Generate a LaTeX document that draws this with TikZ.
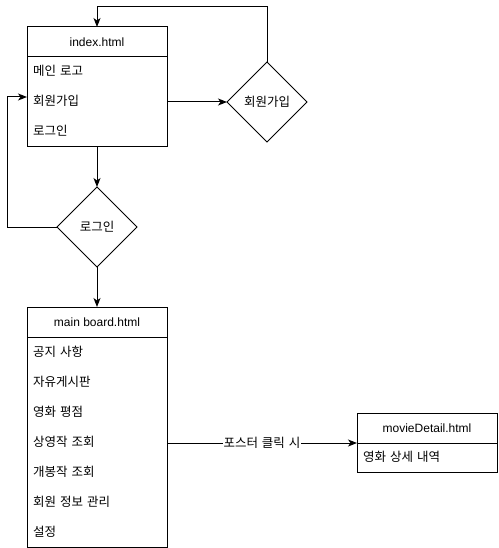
\documentclass[tikz,border=0pt]{standalone}
\usepackage{fontspec}
\setmainfont{Liberation Sans}
\newfontfamily\kr[WordSpace=1.4]{Noto Sans CJK KR}
\usetikzlibrary{shapes.geometric,arrows.meta,calc}
\begin{document}
\begin{tikzpicture}[x=1pt,y=-1pt,
  every node/.style={font=\fontsize{12}{14}\selectfont},
  box/.style={draw, line width=1pt, rectangle, minimum width=140pt, inner sep=0pt, outer sep=0pt},
  item/.style={anchor=west, inner sep=0pt, font=\fontsize{12.5}{14}\selectfont\kr},
  dia/.style={draw, line width=1pt, diamond, aspect=1, minimum width=80pt, minimum height=80pt, inner sep=0pt, outer sep=0pt, font=\fontsize{12.5}{14}\selectfont\kr},
  arr/.style={line width=1pt, -{Stealth[length=9pt,width=7pt,inset=2.5pt]}},
  ln/.style={line width=1pt}
]
\useasboundingbox (0,0) rectangle (498,548);

% index.html
\node[box, minimum height=30pt] (idxh) at (97,42) {index.html};
\node[box, minimum height=90pt] (idxb) at (97,102) {};
\node[item] (i1) at (33,71) {메인 로고};
\node[item] (i2) at (33,101) {회원가입};
\node[item] (i3) at (33,131) {로그인};

% diamonds
\node[dia] (dsign) at (267,102) {회원가입};
\node[dia] (dlog) at (97,227) {로그인};

% main board
\node[box, minimum height=30pt] (mh) at (97,322) {main board.html};
\node[box, minimum height=210pt] (mb) at (97,442) {};
\node[item] (m1) at (33,352) {공지 사항};
\node[item] (m2) at (33,382) {자유게시판};
\node[item] (m3) at (33,412) {영화 평점};
\node[item] (m4) at (33,442) {상영작 조회};
\node[item] (m5) at (33,472) {개봉작 조회};
\node[item] (m6) at (33,502) {회원 정보 관리};
\node[item] (m7) at (33,532) {설정};

% movieDetail
\node[box, minimum height=30pt] (dh) at (427,428) {movieDetail.html};
\node[box, minimum height=29pt] (db) at (427,457.5) {};
\node[item] (d1) at (363,457) {영화 상세 내역};

% connectors
\coordinate (topc) at (97,7);
\draw[arr] (dsign.north) |- (topc) -- (idxh.north);
\draw[arr] (idxb.east) -- (dsign.west);
\draw[arr] (idxb.south) -- (dlog.north);
\coordinate (leftc) at (7,97);
\draw[arr] (dlog.west) -| (leftc) -- (idxb.west |- leftc);
\draw[arr] (dlog.south) -- (mh.north);
\draw[arr] (mb.east |- dh.south) -- (dh.south west)
  node[midway, fill=white, inner sep=1pt, font=\fontsize{12.5}{14}\selectfont\kr] (lbl) {포스터 클릭 시};
\end{tikzpicture}
\end{document}
